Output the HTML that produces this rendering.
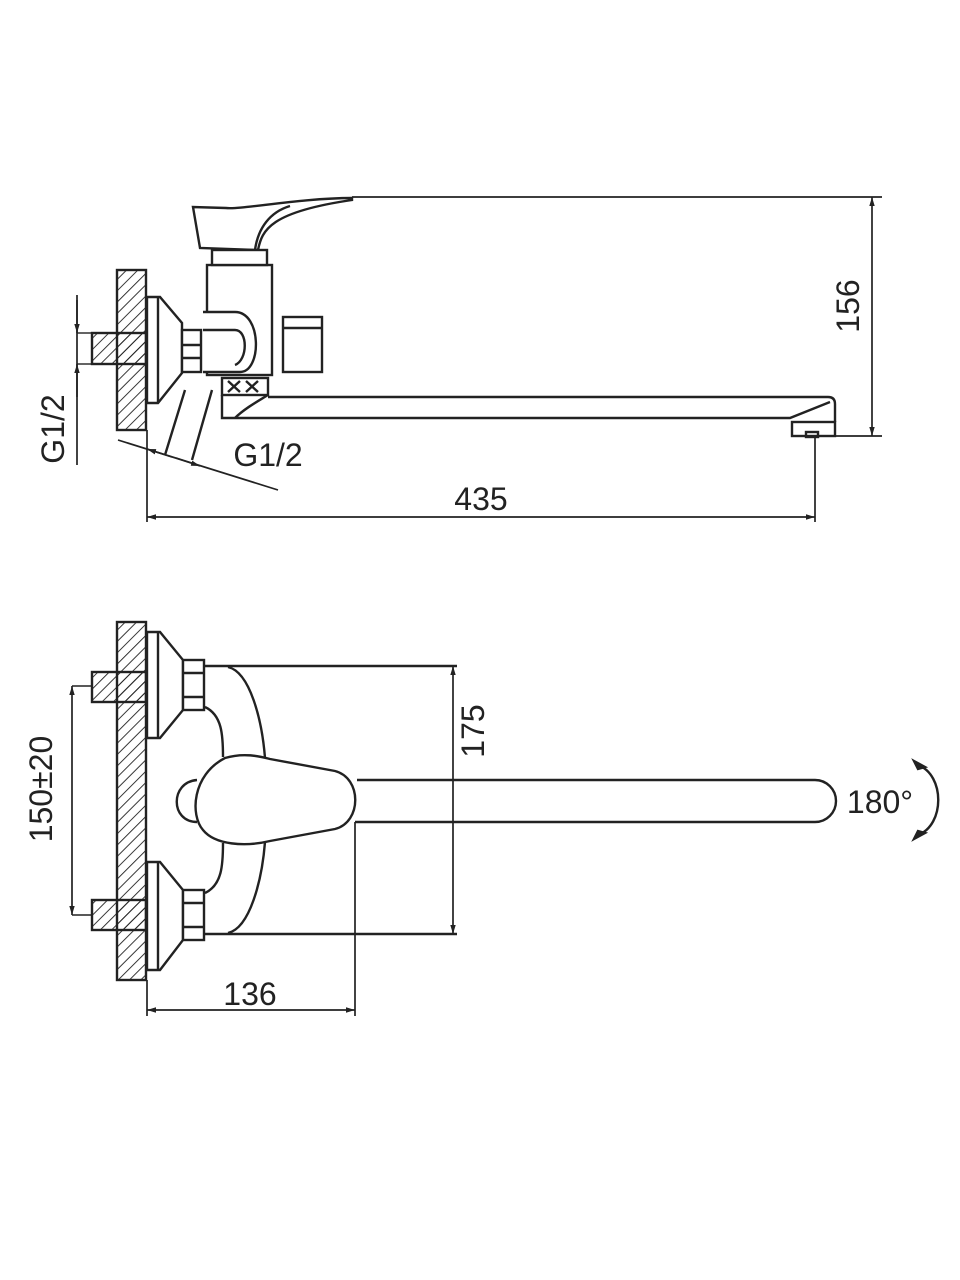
<!DOCTYPE html>
<html><head><meta charset="utf-8"><style>
html,body{margin:0;padding:0;background:#fff}
svg{display:block}
text{font-family:"Liberation Sans",sans-serif;fill:#222}
</style></head><body>
<svg width="960" height="1280" viewBox="0 0 960 1280" xmlns="http://www.w3.org/2000/svg">
<defs>
<pattern id="h" width="8" height="8" patternUnits="userSpaceOnUse" patternTransform="rotate(45)">
<line x1="0" y1="0" x2="0" y2="8" stroke="#222" stroke-width="1.8"/>
</pattern>
<marker id="a" viewBox="0 0 10 10" refX="10" refY="5" markerWidth="9" markerHeight="9" orient="auto-start-reverse" markerUnits="userSpaceOnUse">
<path d="M0,2 L10,5 L0,8 Z" fill="#222"/></marker>
</defs>
<g fill="none" stroke="#222" stroke-width="2.4">
<rect x="117" y="270" width="29" height="160" fill="url(#h)"/>
<rect x="92" y="333" width="54" height="31" fill="url(#h)"/>
<path d="M147,297 L160,297 L182,323 L182,373 L158,403 L147,403 Z" fill="#fff"/>
<line x1="158" y1="297" x2="158" y2="403"/>
<rect x="182" y="330" width="19" height="42" fill="#fff"/>
<line x1="182" y1="345" x2="201" y2="345"/><line x1="182" y1="358" x2="201" y2="358"/>
<rect x="207" y="265" width="65" height="110" fill="#fff"/>
<rect x="283" y="317" width="39" height="55" fill="#fff"/>
<line x1="283" y1="328" x2="322" y2="328"/>
<path d="M203,312 L235,312 C262,312 262,372 240,372 L203,372" fill="#fff"/>
<path d="M203,330 L235,330 C248,330 248,360 235,365"/>
<path d="M193,207 L200,248 L258,250 C262,230 270,212 352,200 L352,198 C300,198 240,210 226,208 Z" fill="#fff"/>
<path d="M255,250 C258,228 270,212 290,206"/>
<rect x="212" y="250" width="55" height="15" fill="#fff"/>
<rect x="222" y="378" width="46" height="17"/>
<path d="M228,381 L240,392 M240,381 L228,392 M246,381 L258,392 M258,381 L246,392"/>
<path d="M222,395 L222,418 L790,418 L830,402"/>
<path d="M268,397 L828,397 Q835,397 835,404 L835,422"/>
<path d="M235,418 C245,408 260,400 268,395"/>
<rect x="792" y="422" width="43" height="14"/>
<rect x="806" y="432" width="12" height="5"/>
<path d="M185,390 L165,455 M212,390 L192,460"/>
<line x1="352" y1="197" x2="882" y2="197" stroke-width="1.7"/>
<line x1="835" y1="436" x2="882" y2="436" stroke-width="1.7"/>
<line x1="872" y1="197" x2="872" y2="436" stroke-width="1.7" marker-start="url(#a)" marker-end="url(#a)"/>
<line x1="147" y1="430" x2="147" y2="522" stroke-width="1.7"/>
<line x1="815" y1="436" x2="815" y2="522" stroke-width="1.7"/>
<line x1="147" y1="517" x2="815" y2="517" stroke-width="1.7" marker-start="url(#a)" marker-end="url(#a)"/>
<line x1="77" y1="295" x2="77" y2="465" stroke-width="1.7"/>
<line x1="77" y1="300" x2="77" y2="333" stroke-width="1.7" marker-end="url(#a)"/>
<line x1="77" y1="397" x2="77" y2="364" stroke-width="1.7" marker-end="url(#a)"/>
<line x1="77" y1="333" x2="92" y2="333" stroke-width="1.4"/><line x1="77" y1="364" x2="92" y2="364" stroke-width="1.4"/>
<line x1="118" y1="440" x2="278" y2="490" stroke-width="1.7"/>
<line x1="147" y1="449" x2="172" y2="457" stroke-width="1.7" marker-start="url(#a)"/>
<line x1="200" y1="466" x2="176" y2="458" stroke-width="1.7" marker-start="url(#a)"/>

<rect x="117" y="622" width="29" height="358" fill="url(#h)"/>
<rect x="92" y="672" width="54" height="30" fill="url(#h)"/>
<rect x="92" y="900" width="54" height="30" fill="url(#h)"/>
<path d="M147,632 L160,632 L183,660 L183,710 L160,738 L147,738 Z" fill="#fff"/>
<line x1="158" y1="632" x2="158" y2="738"/>
<path d="M147,862 L160,862 L183,890 L183,940 L160,970 L147,970 Z" fill="#fff"/>
<line x1="158" y1="862" x2="158" y2="970"/>
<rect x="183" y="660" width="21" height="50" fill="#fff"/>
<line x1="183" y1="673" x2="204" y2="673"/><line x1="183" y1="697" x2="204" y2="697"/>
<rect x="183" y="890" width="21" height="50" fill="#fff"/>
<line x1="183" y1="903" x2="204" y2="903"/><line x1="183" y1="927" x2="204" y2="927"/>
<path d="M205,666 L457,666"/>
<path d="M205,934 L457,934"/>
<path d="M228,667 C250,672 262,720 265,758"/>
<path d="M265,842 C262,880 250,928 228,933"/>
<path d="M205,707 C222,715 223,735 223,757"/>
<path d="M223,843 C223,865 222,885 205,893"/>
<path d="M197,780 C170,782 170,822 197,822"/>
<path d="M225,758 C245,752 262,757 270,759 L335,771 C362,778 362,822 335,829 L270,841 C245,847 215,845 203,830 C190,815 192,775 225,758 Z" fill="#fff"/>
<path d="M357,780 L815,780 A20,20 0 0 1 815,822 L355,822"/>
<line x1="453" y1="666" x2="453" y2="934" stroke-width="1.7" marker-start="url(#a)" marker-end="url(#a)"/>
<line x1="147" y1="980" x2="147" y2="1016" stroke-width="1.7"/>
<line x1="355" y1="822" x2="355" y2="1016" stroke-width="1.7"/>
<line x1="147" y1="1010" x2="355" y2="1010" stroke-width="1.7" marker-start="url(#a)" marker-end="url(#a)"/>
<line x1="72" y1="686" x2="72" y2="915" stroke-width="1.7" marker-start="url(#a)" marker-end="url(#a)"/>
<line x1="72" y1="686" x2="92" y2="686" stroke-width="1.4"/>
<line x1="72" y1="915" x2="92" y2="915" stroke-width="1.4"/>
<path d="M918,765 C945,775 945,825 918,835" stroke-width="2.4"/>
<path d="M914,761 L925,767 L918,769 Z M914,839 L925,833 L918,831 Z" fill="#222"/>
</g>
<text x="870" y="317" font-size="32" text-anchor="middle" transform="rotate(-90 859 317)">156</text>
<text x="481" y="510" font-size="32" text-anchor="middle">435</text>
<text x="268" y="466" font-size="32" text-anchor="middle">G1/2</text>
<text x="75" y="440" font-size="32" text-anchor="middle" transform="rotate(-90 64 440)">G1/2</text>
<text x="495" y="742" font-size="32" text-anchor="middle" transform="rotate(-90 484 742)">175</text>
<text x="250" y="1005" font-size="32" text-anchor="middle">136</text>
<text x="63" y="800" font-size="32" text-anchor="middle" transform="rotate(-90 52 800)">150±20</text>
<text x="880" y="813" font-size="32" text-anchor="middle">180°</text>
</svg>
</body></html>
